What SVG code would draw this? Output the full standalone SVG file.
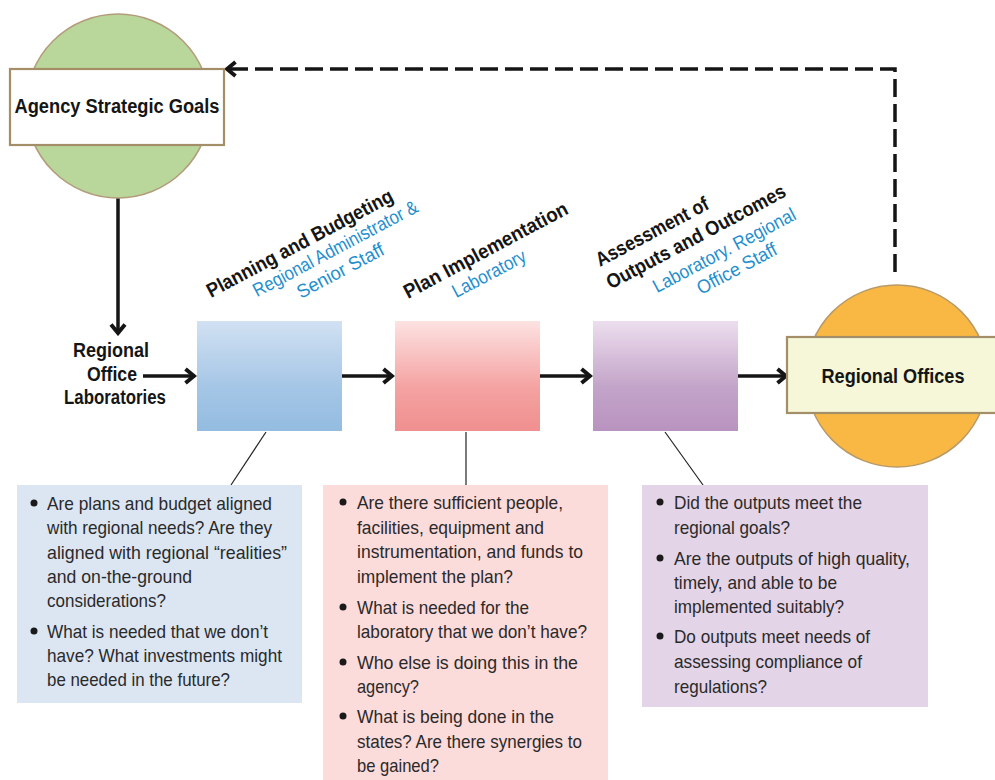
<svg xmlns="http://www.w3.org/2000/svg" width="995" height="780" viewBox="0 0 995 780">
  <style>
    .lbl { font-family: "Liberation Sans", Arial, sans-serif; font-weight: bold; font-size: 20px; fill: #151515; }
    .sub { font-family: "Liberation Sans", Arial, sans-serif; font-size: 19px; fill: #1f8fcf; }
    .body { font-family: "Liberation Sans", Arial, sans-serif; font-size: 19px; fill: #2a2a2a; }
    .bul { fill: #1a1a1a; }
    .flow { stroke: #151515; stroke-width: 3.5; fill: none; }
    .lead { stroke: #222; stroke-width: 1.2; fill: none; }
    .frame { stroke: #a48e68; stroke-width: 2.2; }
  </style>
  <defs>
    <marker id="chev" viewBox="0 0 14 18" refX="12" refY="9" markerWidth="14" markerHeight="18" markerUnits="userSpaceOnUse" orient="auto">
      <path d="M2.5,2 L11,9 L2.5,16" fill="none" stroke="#151515" stroke-width="4" stroke-linejoin="miter"/>
    </marker>
    <linearGradient id="gBlue" x1="0" y1="0" x2="0" y2="1">
      <stop offset="0" stop-color="#d1e1f2"/>
      <stop offset="0.6" stop-color="#a5c6e6"/>
      <stop offset="1" stop-color="#93bce0"/>
    </linearGradient>
    <linearGradient id="gPink" x1="0" y1="0" x2="0" y2="1">
      <stop offset="0" stop-color="#fde2e2"/>
      <stop offset="0.6" stop-color="#f4a3a2"/>
      <stop offset="1" stop-color="#f08f8f"/>
    </linearGradient>
    <linearGradient id="gPurple" x1="0" y1="0" x2="0" y2="1">
      <stop offset="0" stop-color="#ecdeee"/>
      <stop offset="0.6" stop-color="#c3a4c9"/>
      <stop offset="1" stop-color="#b893bf"/>
    </linearGradient>
  </defs>

  <rect width="995" height="780" fill="#ffffff"/>

  <!-- connectors -->
  <g id="connectors">
    <path class="flow" d="M895,272 L895,69 L226,69" stroke-dasharray="18,7" marker-end="url(#chev)"/>
    <path class="flow" d="M118,198 L118,334" marker-end="url(#chev)"/>
    <path class="flow" d="M143,376 L195,376" marker-end="url(#chev)"/>
    <path class="flow" d="M342,376 L393,376" marker-end="url(#chev)"/>
    <path class="flow" d="M540,376 L591,376" marker-end="url(#chev)"/>
    <path class="flow" d="M738,376 L787,376" marker-end="url(#chev)"/>
    <path class="lead" d="M266,432 L231,485"/>
    <path class="lead" d="M466,432 L466,485"/>
    <path class="lead" d="M665,432 L703,485"/>
  </g>

  <!-- agency goals -->
  <g id="agency-goals">
    <circle cx="118" cy="106" r="92" fill="#b9d79b" stroke="#b39c7c" stroke-width="1.5"/>
    <rect class="frame" x="10" y="69" width="214" height="76" fill="#ffffff"/>
    <text class="lbl" x="117" y="113" text-anchor="middle" textLength="205" lengthAdjust="spacingAndGlyphs">Agency Strategic Goals</text>
  </g>

  <!-- regional office laboratories -->
  <g id="regional-labs">
    <text class="lbl" x="111" y="357" text-anchor="middle" textLength="76" lengthAdjust="spacingAndGlyphs">Regional</text>
    <text class="lbl" x="112" y="381" text-anchor="middle" textLength="50" lengthAdjust="spacingAndGlyphs">Office</text>
    <text class="lbl" x="115" y="404" text-anchor="middle" textLength="102" lengthAdjust="spacingAndGlyphs">Laboratories</text>
  </g>

  <!-- planning and budgeting -->
  <g id="planning">
    <rect x="197" y="321" width="145" height="110" fill="url(#gBlue)"/>
    <g transform="translate(211,298) rotate(-28)">
      <text class="lbl" x="0" y="0" textLength="208" lengthAdjust="spacingAndGlyphs">Planning and Budgeting</text>
      <text class="sub" x="41" y="21" textLength="184" lengthAdjust="spacingAndGlyphs">Regional Administrator &amp;</text>
      <text class="sub" x="79" y="43" textLength="96" lengthAdjust="spacingAndGlyphs">Senior Staff</text>
    </g>
  </g>

  <!-- plan implementation -->
  <g id="implementation">
    <rect x="395" y="321" width="145" height="110" fill="url(#gPink)"/>
    <g transform="translate(408,299) rotate(-28)">
      <text class="lbl" x="0" y="0" textLength="183" lengthAdjust="spacingAndGlyphs">Plan Implementation</text>
      <text class="sub" x="43" y="22" textLength="81" lengthAdjust="spacingAndGlyphs">Laboratory</text>
    </g>
  </g>

  <!-- assessment -->
  <g id="assessment">
    <rect x="593" y="321" width="145" height="110" fill="url(#gPurple)"/>
    <g transform="translate(600,267) rotate(-28)">
      <text class="lbl" x="0" y="0" textLength="125" lengthAdjust="spacingAndGlyphs">Assessment of</text>
      <text class="lbl" x="-1" y="25" textLength="200" lengthAdjust="spacingAndGlyphs">Outputs and Outcomes</text>
      <text class="sub" x="38" y="50" textLength="159" lengthAdjust="spacingAndGlyphs">Laboratory. Regional</text>
      <text class="sub" x="76" y="72" textLength="88" lengthAdjust="spacingAndGlyphs">Office Staff</text>
    </g>
  </g>

  <!-- regional offices -->
  <g id="regional-offices">
    <circle cx="897" cy="376" r="91" fill="#f8b843" stroke="#b89a6a" stroke-width="1.5"/>
    <rect class="frame" x="787" y="337" width="215" height="76" fill="#f6f6d9"/>
    <text class="lbl" x="893" y="383" text-anchor="middle" textLength="143" lengthAdjust="spacingAndGlyphs">Regional Offices</text>
  </g>

  <!-- planning questions -->
  <g id="planning-notes">
    <rect x="17" y="485" width="285" height="218" fill="#dce6f3"/>
    <circle class="bul" cx="34" cy="503" r="3.5"/>
    <circle class="bul" cx="34" cy="631" r="3.5"/>
    <text class="body" x="47" y="510" textLength="225" lengthAdjust="spacingAndGlyphs">Are plans and budget aligned</text>
    <text class="body" x="47" y="534" textLength="225" lengthAdjust="spacingAndGlyphs">with regional needs? Are they</text>
    <text class="body" x="47" y="559" textLength="240" lengthAdjust="spacingAndGlyphs">aligned with regional “realities”</text>
    <text class="body" x="47" y="583" textLength="145" lengthAdjust="spacingAndGlyphs">and on-the-ground</text>
    <text class="body" x="47" y="607" textLength="119" lengthAdjust="spacingAndGlyphs">considerations?</text>
    <text class="body" x="47" y="638" textLength="221" lengthAdjust="spacingAndGlyphs">What is needed that we don’t</text>
    <text class="body" x="47" y="662" textLength="235" lengthAdjust="spacingAndGlyphs">have? What investments might</text>
    <text class="body" x="47" y="686" textLength="183" lengthAdjust="spacingAndGlyphs">be needed in the future?</text>
  </g>

  <!-- implementation questions -->
  <g id="implementation-notes">
    <rect x="323" y="485" width="285" height="300" fill="#fcdbdb"/>
    <circle class="bul" cx="343" cy="502" r="3.5"/>
    <circle class="bul" cx="343" cy="607" r="3.5"/>
    <circle class="bul" cx="343" cy="662" r="3.5"/>
    <circle class="bul" cx="343" cy="716" r="3.5"/>
    <text class="body" x="357" y="509" textLength="206" lengthAdjust="spacingAndGlyphs">Are there sufficient people,</text>
    <text class="body" x="357" y="534" textLength="187" lengthAdjust="spacingAndGlyphs">facilities, equipment and</text>
    <text class="body" x="357" y="558" textLength="226" lengthAdjust="spacingAndGlyphs">instrumentation, and funds to</text>
    <text class="body" x="357" y="583" textLength="156" lengthAdjust="spacingAndGlyphs">implement the plan?</text>
    <text class="body" x="357" y="614" textLength="172" lengthAdjust="spacingAndGlyphs">What is needed for the</text>
    <text class="body" x="357" y="638" textLength="230" lengthAdjust="spacingAndGlyphs">laboratory that we don’t have?</text>
    <text class="body" x="357" y="669" textLength="221" lengthAdjust="spacingAndGlyphs">Who else is doing this in the</text>
    <text class="body" x="357" y="693" textLength="62" lengthAdjust="spacingAndGlyphs">agency?</text>
    <text class="body" x="357" y="723" textLength="197" lengthAdjust="spacingAndGlyphs">What is being done in the</text>
    <text class="body" x="357" y="748" textLength="225" lengthAdjust="spacingAndGlyphs">states? Are there synergies to</text>
    <text class="body" x="357" y="772" textLength="82" lengthAdjust="spacingAndGlyphs">be gained?</text>
  </g>

  <!-- assessment questions -->
  <g id="assessment-notes">
    <rect x="642" y="485" width="286" height="222" fill="#e4d4e7"/>
    <circle class="bul" cx="660" cy="502" r="3.5"/>
    <circle class="bul" cx="660" cy="558" r="3.5"/>
    <circle class="bul" cx="660" cy="636" r="3.5"/>
    <text class="body" x="674" y="509" textLength="188" lengthAdjust="spacingAndGlyphs">Did the outputs meet the</text>
    <text class="body" x="674" y="534" textLength="116" lengthAdjust="spacingAndGlyphs">regional goals?</text>
    <text class="body" x="674" y="565" textLength="236" lengthAdjust="spacingAndGlyphs">Are the outputs of high quality,</text>
    <text class="body" x="674" y="589" textLength="163" lengthAdjust="spacingAndGlyphs">timely, and able to be</text>
    <text class="body" x="674" y="613" textLength="170" lengthAdjust="spacingAndGlyphs">implemented suitably?</text>
    <text class="body" x="674" y="643" textLength="196" lengthAdjust="spacingAndGlyphs">Do outputs meet needs of</text>
    <text class="body" x="674" y="668" textLength="188" lengthAdjust="spacingAndGlyphs">assessing compliance of</text>
    <text class="body" x="674" y="693" textLength="93" lengthAdjust="spacingAndGlyphs">regulations?</text>
  </g>
</svg>
